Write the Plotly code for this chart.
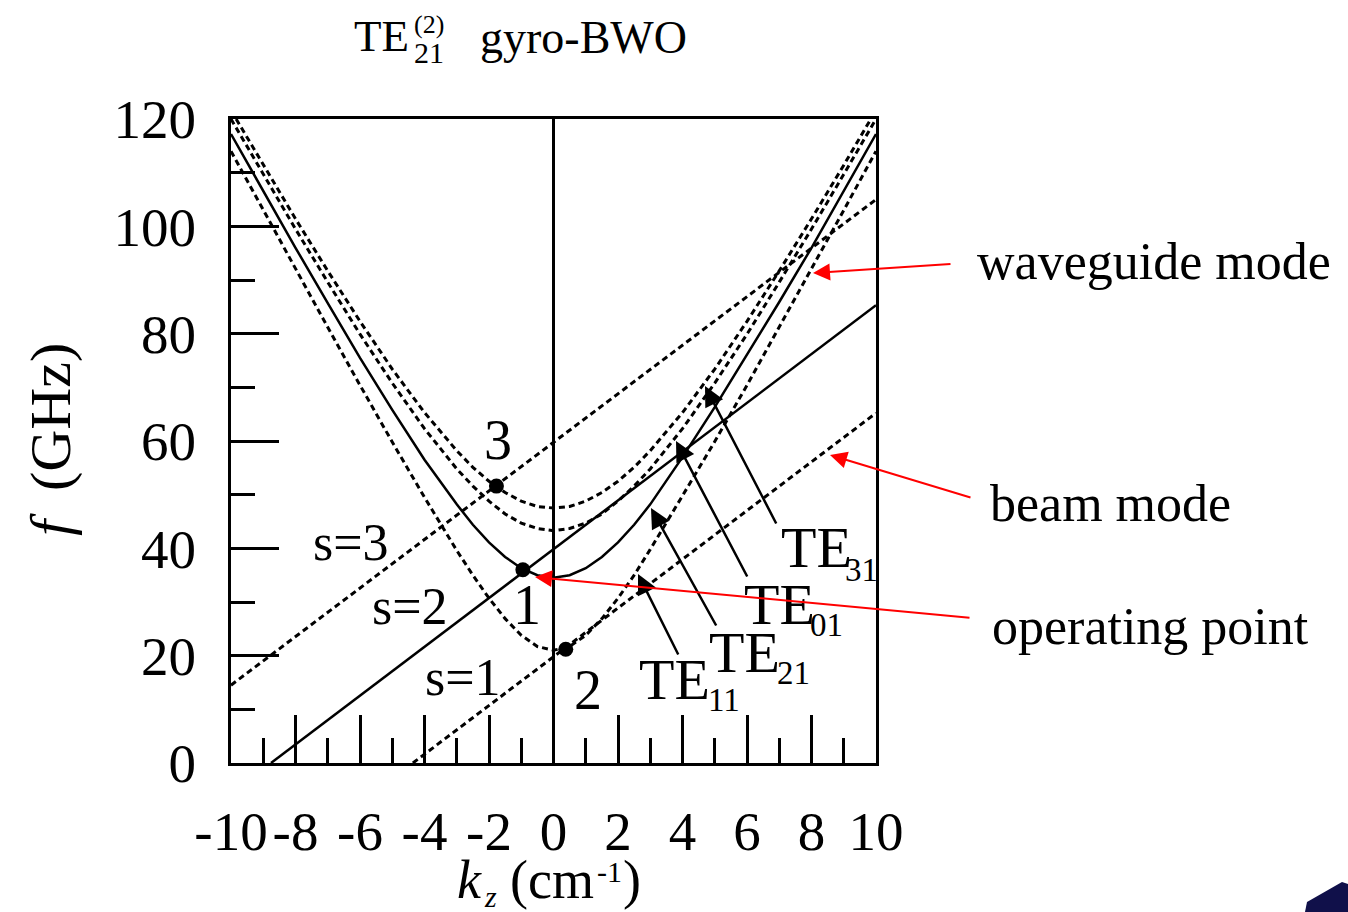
import plotly.graph_objects as go

# ---------------- data ----------------
kz = [-10, -9, -8, -7, -6, -5, -4, -3, -2.5, -2, -1.5, -1, -0.5, 0,
      0.5, 1, 1.5, 2, 2.5, 3, 4, 5, 6, 7, 8, 9, 10]
f_te11 = [114.0, 103.0, 92.0, 81.2, 70.4, 59.8, 49.5, 39.6, 35.0, 30.7, 26.9, 23.8, 21.7, 21.0,
          21.7, 23.8, 26.9, 30.7, 35.0, 39.8, 49.8, 59.9, 70.4, 81.2, 92.0, 103.0, 114.0]
f_te21 = [117.2, 106.5, 96.0, 85.7, 75.5, 65.8, 56.5, 48.2, 44.4, 41.1, 38.4, 36.3, 35.0, 34.5,
          35.0, 36.3, 38.4, 41.1, 44.4, 48.2, 57.0, 66.3, 76.0, 85.9, 96.0, 106.5, 117.2]
f_te01 = [120.0, 109.7, 99.5, 89.6, 79.9, 70.8, 62.3, 54.8, 51.6, 48.8, 46.4, 44.7, 43.7, 43.3,
          43.7, 44.7, 46.4, 48.8, 51.6, 54.8, 62.3, 70.8, 79.9, 89.6, 99.5, 109.7, 120.0]
kz_te31 = [-9.84, -9, -8, -7, -6, -5, -4, -3, -2.5, -2, -1.5, -1, -0.5, 0,
           0.5, 1, 1.5, 2, 2.5, 3, 4, 5, 6, 7, 8, 9, 9.84]
f_te31 = [120.0, 111.4, 101.4, 91.7, 82.3, 73.4, 65.3, 58.2, 55.1, 52.5, 50.4, 48.8, 47.8, 47.5,
          47.8, 48.8, 50.4, 52.5, 55.1, 58.2, 65.3, 73.4, 82.3, 91.7, 101.4, 111.4, 120.0]

beam_s1_kz = [-4.36, 10]
beam_s1_f = [0.0, 65.2]
beam_s2_kz = [-8.76, 10]
beam_s2_f = [0.0, 85.3]
beam_s3_kz = [-10, 10]
beam_s3_f = [14.5, 105.0]

point_kz = [-0.95, 0.38, -1.77]
point_f = [36.0, 21.2, 51.6]
point_labels = ["1", "2", "3"]

x_tickvals = [-10, -8, -6, -4, -2, 0, 2, 4, 6, 8, 10]
x_ticktext = ["-10", "-8", "-6", "-4", "-2", "0", "2", "4", "6", "8", "10"]
y_tickvals = [0, 20, 40, 60, 80, 100, 120]
y_ticktext = ["0", "20", "40", "60", "80", "100", "120"]

# ---------------- layout geometry helpers ----------------
FIG_W, FIG_H = 1348, 912
L, T, W, H = 231, 119, 645, 644
B = T + H
FONT = "Liberation Serif, Times New Roman, serif"


def P(px, py):
    return (px - L) / W, (B - py) / H


DASH = "6px,4px"
LW = 2.5
DLW = 3

fig = go.Figure()


def add_line(x, y, dash=None):
    fig.add_trace(go.Scatter(x=x, y=y, mode="lines", showlegend=False, hoverinfo="skip",
                             line=dict(color="black", width=DLW if dash else LW,
                                       dash=dash or "solid")))


add_line(kz, f_te11, DASH)
add_line(kz, f_te21)
add_line(kz, f_te01, DASH)
add_line(kz_te31, f_te31, DASH)
add_line(beam_s1_kz, beam_s1_f, DASH)
add_line(beam_s2_kz, beam_s2_f)
add_line(beam_s3_kz, beam_s3_f, DASH)

fig.add_trace(go.Scatter(x=point_kz, y=point_f, mode="markers", showlegend=False, hoverinfo="skip",
                         marker=dict(color="black", size=15)))

annotations = []


def text(s, px, py, size, xanchor="center", yanchor="middle", angle=0):
    x, y = P(px, py)
    annotations.append(dict(text=s, x=x, y=y, xref="paper", yref="paper", showarrow=False,
                            xanchor=xanchor, yanchor=yanchor, textangle=angle,
                            font=dict(family=FONT, size=size, color="black")))


def arrow(tip, tail, color, width, size):
    x, y = P(*tip)
    annotations.append(dict(text="", x=x, y=y, xref="paper", yref="paper", showarrow=True,
                            ax=tail[0] - tip[0], ay=tail[1] - tip[1],
                            arrowhead=2, arrowwidth=width, arrowsize=size, arrowcolor=color))


# title
text("TE", 352, 36, 45, xanchor="left")
text("(2)", 429, 25, 26)
text("21", 429, 52, 30)
text("gyro-BWO", 478, 37, 46, xanchor="left")

# axis titles
text("<i>f</i>  (GHz)", 50, 440, 58, angle=-90)
text("<i>k</i>", 455, 880, 54, xanchor="left")
text("<i>z</i>", 482, 896, 30, xanchor="left")
text("(cm", 508, 880, 54, xanchor="left")
text("-1", 595, 871, 30, xanchor="left")
text(")", 621, 880, 54, xanchor="left")

# beam harmonic labels
text("s=3", 351, 542, 52)
text("s=2", 410, 606, 52)
text("s=1", 463, 677, 52)

# point labels (placed relative to the points)
offsets = [(4, -35), (22, -41), (2, 46)]
for k, f, lab, (dx, dy) in zip(point_kz, point_f, point_labels, offsets):
    annotations.append(dict(text=lab, x=k, y=f, xref="x", yref="y", showarrow=False,
                            xshift=dx, yshift=dy,
                            font=dict(family=FONT, size=56, color="black")))

# mode labels with subscripts
for te_left, te_mid, sub, sub_left, sub_mid in [
        (779, 547, "31", 843, 570),
        (742, 604, "01", 808, 625),
        (707, 652, "21", 775, 673),
        (637, 679, "11", 706, 700)]:
    text("TE", te_left, te_mid, 58, xanchor="left")
    text(sub, sub_left, sub_mid, 33, xanchor="left")

# black pointer arrows
arrow((705, 386), (777, 525), "black", 2.5, 1.6)
arrow((676, 441), (748, 578), "black", 2.5, 1.6)
arrow((651, 508), (717, 627), "black", 2.5, 1.6)
arrow((638, 574), (679, 656), "black", 2.5, 1.6)

# red pointer arrows and their texts
arrow((813, 273), (952, 264), "#ff0000", 2, 1.7)
arrow((830, 455), (972, 498), "#ff0000", 2, 1.7)
arrow((535, 577), (971, 618), "#ff0000", 2, 1.7)
text("waveguide mode", 975, 261, 52, xanchor="left")
text("beam mode", 988, 503, 52, xanchor="left")
text("operating point", 990, 626, 52, xanchor="left")

# navy corner decoration
corner = [(1305, 912), (1307, 902), (1342, 882), (1348, 884), (1348, 912)]
path = "M " + " L ".join(f"{P(px, py)[0]:.5f},{P(px, py)[1]:.5f}" for px, py in corner) + " Z"
shapes = [dict(type="path", path=path, xref="paper", yref="paper",
               fillcolor="#10104a", line=dict(width=0))]

axis_common = dict(showline=True, linewidth=3, linecolor="black", mirror=True,
                   ticks="inside", ticklen=48, tickwidth=3, tickcolor="black",
                   showgrid=False, tickmode="array",
                   tickfont=dict(family=FONT, size=55, color="black"))

fig.update_layout(
    width=FIG_W, height=FIG_H, autosize=False,
    margin=dict(l=L, r=FIG_W - L - W, t=T, b=FIG_H - B, pad=0),
    paper_bgcolor="white", plot_bgcolor="white",
    xaxis=dict(range=[-10, 10], tickvals=x_tickvals, ticktext=x_ticktext,
               zeroline=True, zerolinecolor="black", zerolinewidth=2.5,
               minor=dict(ticks="inside", ticklen=25, tickwidth=3, tickcolor="black",
                          dtick=1, tick0=0, showgrid=False),
               ticklabelstandoff=18, **axis_common),
    yaxis=dict(range=[0, 120], tickvals=y_tickvals, ticktext=y_ticktext, zeroline=False,
               minor=dict(ticks="inside", ticklen=24, tickwidth=3, tickcolor="black",
                          dtick=10, tick0=0, showgrid=False),
               ticklabelstandoff=21, **axis_common),
    annotations=annotations,
    shapes=shapes,
)

fig.write_html("out.html")
